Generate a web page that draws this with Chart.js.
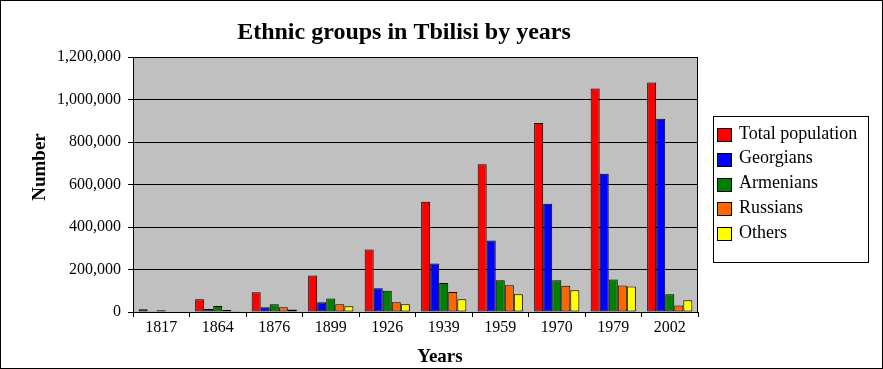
<!DOCTYPE html>
<html><head><meta charset="utf-8">
<script src="https://cdn.jsdelivr.net/npm/chart.js@4"></script>
<style>html,body{margin:0;padding:0;background:#fff}#wrap{width:883px;height:369px;position:relative}canvas{display:block}</style>
</head><body><div id="wrap"><canvas id="c" width="883" height="369"></canvas></div>
<script>
const TITLE = 'Ethnic groups in Tbilisi by years';
const X_TITLE = 'Years';
const Y_TITLE = 'Number';
const years = ['1817', '1864', '1876', '1899', '1926', '1939', '1959', '1970', '1979', '2002'];
const seriesNames = ['Total population', 'Georgians', 'Armenians', 'Russians', 'Others'];
const seriesColors = ['#FF0000', '#0000FF', '#008000', '#FF6600', '#FFFF00'];
const totalPopulation = [13000, 60000, 93000, 172000, 294000, 519000, 695000, 889000, 1052000, 1080000];
const georgians = [4000, 14000, 22000, 46000, 112000, 228000, 336000, 510000, 651000, 910000];
const armenians = [8000, 28000, 36000, 64000, 100000, 137000, 149000, 150000, 153000, 83000];
const russians = [0, 9000, 22000, 36000, 46000, 94000, 126000, 124000, 125000, 31000];
const others = [0, 3000, 12000, 27000, 36000, 60000, 83000, 102000, 120000, 55000];
const yTicks = [0, 200000, 400000, 600000, 800000, 1000000, 1200000];

const seriesData = [totalPopulation, georgians, armenians, russians, others];
const SERIF = '"Liberation Serif", "Times New Roman", serif';

const bgPlugin = {
  id: 'bg',
  beforeDraw(chart) {
    const c = chart.ctx, a = chart.chartArea;
    c.save();
    c.fillStyle = '#FFFFFF';
    c.fillRect(0, 0, chart.width, chart.height);
    c.fillStyle = '#C0C0C0';
    c.fillRect(a.left, a.top, a.right - a.left, a.bottom - a.top);
    c.restore();
  }
};

const decorPlugin = {
  id: 'decor',
  afterDraw(chart) {
    const c = chart.ctx, a = chart.chartArea;
    c.save();
    c.strokeStyle = '#000'; c.lineWidth = 1;
    c.beginPath();
    c.moveTo(Math.round(a.right) - 0.5, a.top);
    c.lineTo(Math.round(a.right) - 0.5, a.bottom);
    c.stroke();
    c.strokeRect(0.5, 0.5, chart.width - 1, chart.height - 1);
    c.fillStyle = '#000';
    c.textAlign = 'center';
    c.textBaseline = 'alphabetic';
    c.font = 'bold 24px ' + SERIF;
    c.fillText(TITLE, 404, 39);
    c.font = 'bold 19px ' + SERIF;
    c.fillText(X_TITLE, 440, 361.5);
    c.save();
    c.translate(45, 167);
    c.rotate(-Math.PI / 2);
    c.fillText(Y_TITLE, 0, 0);
    c.restore();
    c.fillStyle = '#FFFFFF';
    c.fillRect(713.5, 116.5, 155, 146);
    c.strokeRect(713.5, 116.5, 155, 146);
    c.font = '18px ' + SERIF;
    c.textAlign = 'left';
    chart.data.datasets.forEach((ds, i) => {
      const y = 128 + i * 24.8;
      c.fillStyle = ds.backgroundColor;
      c.fillRect(717.5, Math.round(y) + 0.5, 14, 13);
      c.strokeStyle = '#000';
      c.strokeRect(717.5, Math.round(y) + 0.5, 14, 13);
      c.fillStyle = '#000';
      c.fillText(ds.label, 739, 138.5 + i * 24.8);
    });
    c.restore();
  }
};

new Chart(document.getElementById('c'), {
  type: 'bar',
  data: {
    labels: years,
    datasets: seriesNames.map((n, i) => ({
      label: n,
      data: seriesData[i],
      backgroundColor: seriesColors[i],
      borderColor: '#000000',
      borderWidth: 1,
      borderSkipped: false,
      barPercentage: 1,
      categoryPercentage: 0.8
    }))
  },
  options: {
    responsive: false,
    animation: false,
    devicePixelRatio: 1,
    layout: { padding: { left: 0, top: 57, right: 185, bottom: 0 } },
    plugins: { legend: { display: false }, title: { display: false }, tooltip: { enabled: false } },
    scales: {
      x: {
        grid: { display: true, drawOnChartArea: false, drawTicks: true, tickLength: 5, tickColor: '#000', offset: true },
        border: { display: true, color: '#000' },
        ticks: { font: { family: SERIF, size: 16 }, color: '#000', padding: 1, maxRotation: 0, autoSkip: false },
        afterFit: s => { s.height = 57; }
      },
      y: {
        min: 0, max: 1200000,
        afterBuildTicks: s => { s.ticks = yTicks.map(v => ({ value: v })); },
        grid: { color: '#000', tickColor: '#000', tickLength: 5 },
        border: { display: true, color: '#000' },
        ticks: { font: { family: SERIF, size: 16 }, color: '#000', padding: 7, callback: v => Number(v).toLocaleString('en-US') },
        afterFit: s => { s.width = 133; }
      }
    }
  },
  plugins: [bgPlugin, decorPlugin]
});
</script>
</body></html>
